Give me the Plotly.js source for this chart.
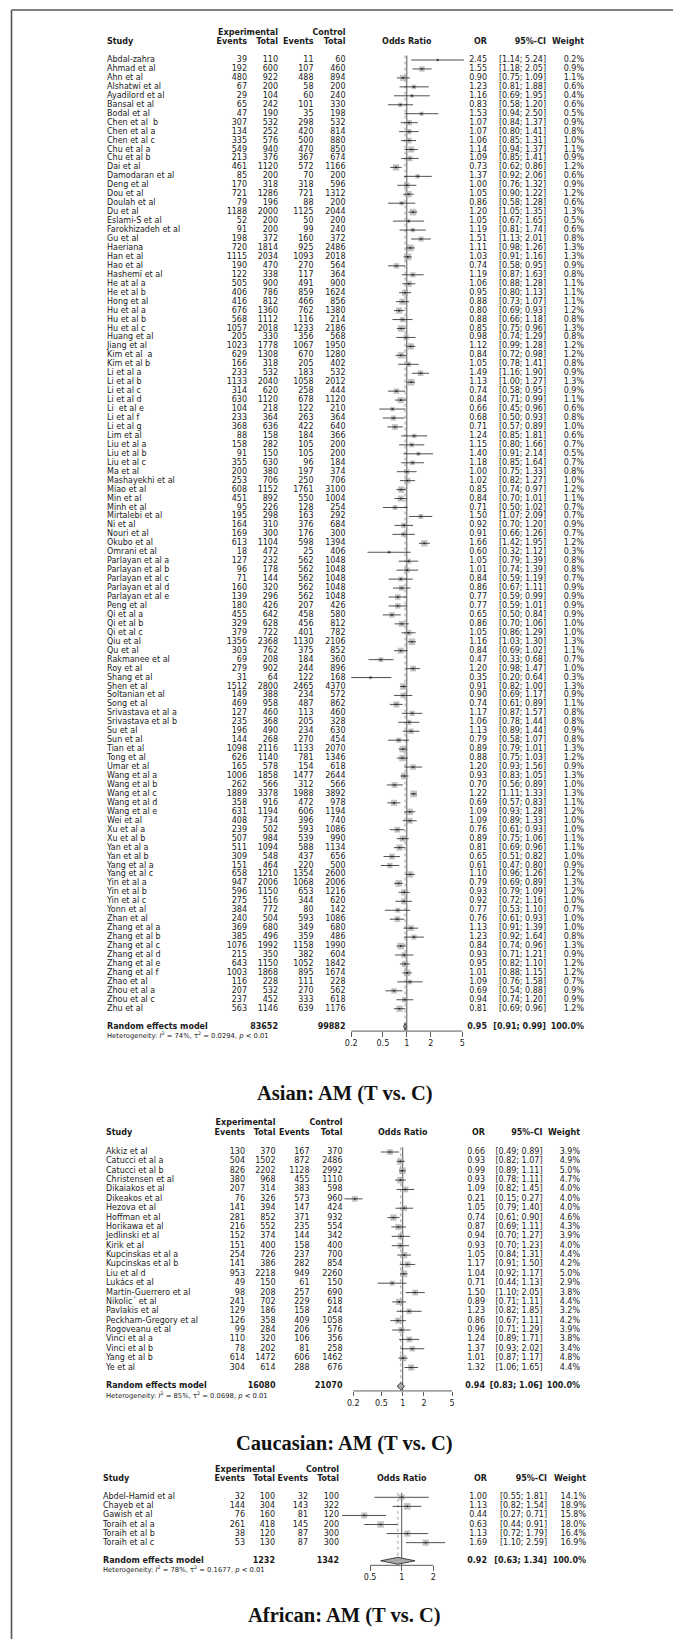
<!DOCTYPE html>
<html><head><meta charset="utf-8">
<script src="https://cdn.plot.ly/plotly-3.0.1.min.js"></script>
<style>html,body{margin:0;padding:0;background:#fff}#chart{width:673px;height:1639px}</style>
</head><body><div id="chart"></div>
<script>
// ---------------- DATA: Asian ----------------
const asiaStudy = ["Abdal-zahra","Ahmad et al","Ahn et al","Alshatwi et al","Ayadilord et al","Bansal et al","Bodal et al","Chen et al  b","Chen et al a","Chen et al c","Chu et al a","Chu et al b","Dai et al","Damodaran et al","Deng et al","Dou et al","Doulah et al","Du et al","Eslami-S et al","Farokhizadeh et al","Gu et al","Haeriana","Han et al","Hao et al","Hashemi et al","He at al a","He et al b","Hong et al","Hu et al a","Hu et al b","Hu et al c","Huang et al","Jiang et al","Kim et al  a","Kim et al b","Li et al a","Li et al b","Li et al c","Li et al d","Li  et al e","Li et al f","Li et al g","Lim et al","Liu et al a","Liu et al b","Liu et al c","Ma et al","Mashayekhi et al","Miao et al","Min et al","Minh et al","Mirtalebi et al","Ni et al","Nouri et al","Okubo et al","Omrani et al","Parlayan et al a","Parlayan et al b","Parlayan et al c","Parlayan et al d","Parlayan et al e","Peng et al","Qi et al a","Qi et al b","Qi et al c","Qiu et al","Qu et al","Rakmanee et al","Roy et al","Shang et al","Shen et al","Soltanian et al","Song et al","Srivastava et al a","Srivastava et al b","Su et al","Sun et al","Tian et al","Tong et al","Umar et al","Wang et al a","Wang et al b","Wang et al c","Wang et al d","Wang et al e","Wei et al","Xu et al a","Xu et al b","Yan et al a","Yan et al b","Yang et al a","Yang et al c","Yin et al a","Yin et al b","Yin et al c","Yonn et al","Zhan et al","Zhang et al a","Zhang et al b","Zhang et al c","Zhang et al d","Zhang et al e","Zhang et al f","Zhao et al","Zhou et al a","Zhou et al c","Zhu et al"];
const asiaEvE = [39,192,480,67,29,65,47,307,134,335,549,213,461,85,170,721,79,1188,52,91,198,720,1115,190,122,505,406,416,676,568,1057,205,1023,629,166,233,1133,314,630,104,233,368,88,158,91,355,200,253,608,451,95,195,164,169,613,18,127,96,71,160,139,180,455,329,379,1356,303,69,279,31,1512,149,469,127,235,196,144,1098,626,165,1006,262,1889,358,631,408,239,507,511,309,151,658,947,596,275,384,240,369,385,1076,215,643,1003,116,207,237,563];
const asiaNE = [110,600,922,200,104,242,190,532,252,576,940,376,1120,200,318,1286,196,2000,200,200,372,1814,2034,470,338,900,786,812,1360,1112,2018,330,1778,1308,318,532,2040,620,1120,218,364,636,158,282,150,630,380,706,1152,892,226,298,310,300,1104,472,232,178,144,320,296,426,642,628,722,2368,762,208,902,64,2800,388,958,460,368,490,268,2116,1140,578,1858,566,3378,916,1194,734,502,984,1094,548,464,1210,2006,1150,516,772,504,680,496,1992,350,1150,1868,228,532,452,1146];
const asiaEvC = [11,107,488,58,60,101,35,298,420,500,470,367,572,70,318,721,88,1125,50,99,160,925,1093,270,117,491,859,466,762,116,1233,356,1067,670,205,183,1058,258,678,122,263,422,184,105,105,96,197,250,1761,550,128,163,376,176,598,25,562,562,562,562,562,207,458,456,401,1130,375,184,244,122,2465,234,487,113,205,234,270,1133,781,154,1477,312,1988,472,606,396,593,539,588,437,220,1354,1068,653,344,80,593,349,359,1158,382,1052,895,111,270,333,639];
const asiaNC = [60,460,894,200,240,330,198,532,814,880,850,674,1166,200,596,1312,200,2044,200,240,372,2486,2018,564,364,900,1624,856,1380,214,2186,568,1950,1280,402,532,2012,444,1120,210,364,640,366,200,200,184,374,706,3100,1004,254,292,684,300,1394,406,1048,1048,1048,1048,1048,426,580,812,782,2106,852,360,896,168,4370,572,862,460,328,630,454,2070,1346,618,2644,566,3892,978,1194,740,1086,990,1134,656,500,2600,2006,1216,620,142,1086,680,486,1990,604,1842,1674,228,562,618,1176];
const asiaOR = [2.45,1.55,0.90,1.23,1.16,0.83,1.53,1.07,1.07,1.06,1.14,1.09,0.73,1.37,1.00,1.05,0.86,1.20,1.05,1.19,1.51,1.11,1.03,0.74,1.19,1.06,0.95,0.88,0.80,0.88,0.85,0.98,1.12,0.84,1.05,1.49,1.13,0.74,0.84,0.66,0.68,0.71,1.24,1.15,1.40,1.18,1.00,1.02,0.85,0.84,0.71,1.50,0.92,0.91,1.66,0.60,1.05,1.01,0.84,0.86,0.77,0.77,0.65,0.86,1.05,1.16,0.84,0.47,1.20,0.35,0.91,0.90,0.74,1.17,1.06,1.13,0.79,0.89,0.88,1.20,0.93,0.70,1.22,0.69,1.09,1.09,0.76,0.89,0.81,0.65,0.61,1.10,0.79,0.93,0.92,0.77,0.76,1.13,1.23,0.84,0.93,0.95,1.01,1.09,0.69,0.94,0.81];
const asiaLo = [1.14,1.18,0.75,0.81,0.69,0.58,0.94,0.84,0.80,0.85,0.94,0.85,0.62,0.92,0.76,0.90,0.58,1.05,0.67,0.81,1.13,0.98,0.91,0.58,0.87,0.88,0.80,0.73,0.69,0.66,0.75,0.74,0.99,0.72,0.78,1.16,1.00,0.58,0.71,0.45,0.50,0.57,0.85,0.80,0.91,0.85,0.75,0.82,0.74,0.70,0.50,1.07,0.70,0.66,1.42,0.32,0.79,0.74,0.59,0.67,0.59,0.59,0.50,0.70,0.86,1.03,0.69,0.33,0.98,0.20,0.82,0.69,0.61,0.87,0.78,0.89,0.58,0.79,0.75,0.93,0.83,0.56,1.11,0.57,0.93,0.89,0.61,0.75,0.69,0.51,0.47,0.96,0.69,0.79,0.72,0.53,0.61,0.91,0.92,0.74,0.71,0.82,0.88,0.76,0.54,0.74,0.69];
const asiaHi = [5.24,2.05,1.09,1.88,1.95,1.20,2.50,1.37,1.41,1.31,1.37,1.41,0.86,2.06,1.32,1.22,1.28,1.35,1.65,1.74,2.01,1.26,1.16,0.95,1.63,1.28,1.13,1.07,0.93,1.18,0.96,1.29,1.28,0.98,1.41,1.90,1.27,0.95,0.99,0.96,0.93,0.89,1.81,1.66,2.14,1.64,1.33,1.27,0.97,1.01,1.02,2.09,1.20,1.26,1.95,1.12,1.39,1.39,1.19,1.11,0.99,1.01,0.84,1.06,1.29,1.30,1.02,0.68,1.47,0.64,1.00,1.17,0.89,1.57,1.44,1.44,1.07,1.01,1.03,1.56,1.05,0.89,1.33,0.83,1.28,1.33,0.93,1.06,0.96,0.82,0.80,1.26,0.89,1.09,1.16,1.10,0.93,1.39,1.64,0.96,1.21,1.10,1.15,1.58,0.88,1.20,0.96];
const asiaW = [0.2,0.9,1.1,0.6,0.4,0.6,0.5,0.9,0.8,1.0,1.1,0.9,1.2,0.6,0.9,1.2,0.6,1.3,0.5,0.6,0.8,1.3,1.3,0.9,0.8,1.1,1.1,1.1,1.2,0.8,1.3,0.8,1.2,1.2,0.8,0.9,1.3,0.9,1.1,0.6,0.8,1.0,0.6,0.7,0.5,0.7,0.8,1.0,1.2,1.1,0.7,0.7,0.9,0.7,1.2,0.3,0.8,0.8,0.7,0.9,0.9,0.9,0.9,1.0,1.0,1.3,1.1,0.7,1.0,0.3,1.3,0.9,1.1,0.8,0.8,0.9,0.8,1.3,1.2,0.9,1.3,1.0,1.3,1.1,1.2,1.0,1.0,1.1,1.1,1.0,0.9,1.2,1.3,1.2,1.0,0.7,1.0,1.0,0.8,1.3,0.9,1.2,1.2,0.7,0.9,0.9,1.2];
const asiaTotals = [83652, 99882];
const asiaPooled = [0.95, 0.91, 0.99];
const asiaHet = ["74%", "0.0294", "0.01"];
const asiaTicks = [0.2, 0.5, 1, 2, 5];

// ---------------- DATA: Caucasian ----------------
const cauStudy = ["Akkiz et al","Catucci et al a","Catucci et al b","Christensen et al","Dikaiakos et al","Dikeakos et al","Hezova et al","Hoffman et al","Horikawa et al","Jedlinski et al","Kirik et al","Kupcinskas et al a","Kupcinskas et al b","Liu et al d","Lukács et al","Martín-Guerrero et al","Nikolic´ et al","Pavlakis et al","Peckham-Gregory et al","Rogoveanu et al","Vinci et al a","Vinci et al b","Yang et al b","Ye et al"];
const cauEvE = [130,504,826,380,207,76,141,281,216,152,151,254,141,953,49,98,241,129,126,99,110,78,614,304];
const cauNE = [370,1502,2202,968,314,326,394,852,552,374,400,726,386,2218,150,208,702,186,358,284,320,202,1472,614];
const cauEvC = [167,872,1128,455,383,573,147,371,235,144,158,237,282,949,61,257,229,158,409,206,106,81,606,288];
const cauNC = [370,2486,2992,1110,598,960,424,932,554,342,400,700,854,2260,150,690,618,244,1058,576,356,258,1462,676];
const cauOR = [0.66,0.93,0.99,0.93,1.09,0.21,1.05,0.74,0.87,0.94,0.93,1.05,1.17,1.04,0.71,1.50,0.89,1.23,0.86,0.96,1.24,1.37,1.01,1.32];
const cauLo = [0.49,0.82,0.89,0.78,0.82,0.15,0.79,0.61,0.69,0.70,0.70,0.84,0.91,0.92,0.44,1.10,0.71,0.82,0.67,0.71,0.89,0.93,0.87,1.06];
const cauHi = [0.89,1.07,1.11,1.11,1.45,0.27,1.40,0.90,1.11,1.27,1.23,1.31,1.50,1.17,1.13,2.05,1.11,1.85,1.11,1.29,1.71,2.02,1.17,1.65];
const cauW = [3.9,4.9,5.0,4.7,4.0,4.0,4.0,4.6,4.3,3.9,4.0,4.4,4.2,5.0,2.9,3.8,4.4,3.2,4.2,3.9,3.8,3.4,4.8,4.4];
const cauTotals = [16080, 21070];
const cauPooled = [0.94, 0.83, 1.06];
const cauHet = ["85%", "0.0698", "0.01"];
const cauTicks = [0.2, 0.5, 1, 2, 5];

// ---------------- DATA: African ----------------
const afrStudy = ["Abdel-Hamid et al","Chayeb et al","Gawish et al","Toraih et al a","Toraih et al b","Toraih et al c"];
const afrEvE = [32,144,76,261,38,53];
const afrNE = [100,304,160,418,120,130];
const afrEvC = [32,143,81,145,87,87];
const afrNC = [100,322,120,200,300,300];
const afrOR = [1.00,1.13,0.44,0.63,1.13,1.69];
const afrLo = [0.55,0.82,0.27,0.44,0.72,1.10];
const afrHi = [1.81,1.54,0.71,0.91,1.79,2.59];
const afrW = [14.1,18.9,15.8,18.0,16.4,16.9];
const afrTotals = [1232, 1342];
const afrPooled = [0.92, 0.63, 1.34];
const afrHet = ["78%", "0.1677", "0.01"];
const afrTicks = [0.5, 1, 2];

const titles = ["Asian: AM (T vs. C)", "Caucasian: AM (T vs. C)", "African: AM (T vs. C)"];

// ---------------- LAYOUT CONSTANTS (pixels) ----------------
const W = 673, H = 1639;
const FONT = "DejaVu Sans, Verdana, sans-serif";
const FS = 8;
const TXT = "#1a1a1a";
const panels = [
  {study: asiaStudy, evE: asiaEvE, nE: asiaNE, evC: asiaEvC, nC: asiaNC, or: asiaOR, lo: asiaLo, hi: asiaHi, w: asiaW,
   totals: asiaTotals, pooled: asiaPooled, het: asiaHet, ticks: asiaTicks, title: titles[0],
   y0: 60, pitch: 8.95, top: 18, bottom: 1112, nameX: 107, eveR: 247, neR: 278, evcR: 313.5, ncR: 345.5,
   orC: 406.8, k: 79.5, orR: 487, ciR: 546, wR: 584, titleY: 1093},
  {study: cauStudy, evE: cauEvE, nE: cauNE, evC: cauEvC, nC: cauNC, or: cauOR, lo: cauLo, hi: cauHi, w: cauW,
   totals: cauTotals, pooled: cauPooled, het: cauHet, ticks: cauTicks, title: titles[1],
   y0: 1152, pitch: 9.37, top: 1112, bottom: 1462, nameX: 106, eveR: 245, neR: 275.5, evcR: 309.5, ncR: 342.5,
   orC: 402.7, k: 70.7, orR: 485, ciR: 542.5, wR: 580, titleY: 1443},
  {study: afrStudy, evE: afrEvE, nE: afrNE, evC: afrEvC, nC: afrNC, or: afrOR, lo: afrLo, hi: afrHi, w: afrW,
   totals: afrTotals, pooled: afrPooled, het: afrHet, ticks: afrTicks, title: titles[2],
   y0: 1497.3, pitch: 9.07, top: 1462, bottom: 1639, nameX: 103, eveR: 245, neR: 275, evcR: 308, ncR: 339,
   orC: 401.7, k: 105, orR: 487, ciR: 547, wR: 586, titleY: 1615}
];
const SQMAX = 6.6;

const traces = [];
const layout = {
  width: W, height: H, margin: {l: 0, r: 0, t: 0, b: 0},
  paper_bgcolor: "#ffffff", plot_bgcolor: "rgba(0,0,0,0)", showlegend: false,
  shapes: [
    {type: "line", xref: "paper", yref: "paper", x0: 11.5 / W, x1: 1, y0: 1 - 10 / H, y1: 1 - 10 / H, line: {color: "#555", width: 1.6}},
    {type: "line", xref: "paper", yref: "paper", x0: 11.5 / W, x1: 11.5 / W, y0: 1 - 10 / H, y1: 0, line: {color: "#555", width: 1.6}}
  ],
  annotations: []
};

function textTrace(xa, ya, xs, ys, texts, pos, size, color) {
  return {type: "scatter", mode: "text", x: xs, y: ys, text: texts, textposition: pos,
    textfont: {family: FONT, size: size || FS, color: color || TXT},
    xaxis: xa, yaxis: ya, hoverinfo: "skip", cliponaxis: false, showlegend: false};
}
const fill = (n, v) => Array.from({length: n}, () => v);
const f2 = v => v.toFixed(2);

panels.forEach((p, pi) => {
  const tx = "x" + (2 * pi + 1), fx = "x" + (2 * pi + 2), ya = "y" + (pi + 1);
  const txKey = pi === 0 ? "xaxis" : "xaxis" + (2 * pi + 1);
  const fxKey = "xaxis" + (2 * pi + 2);
  const yKey = pi === 0 ? "yaxis" : "yaxis" + (pi + 1);
  const n = p.study.length;
  const rows = p.study.map((_, i) => i);
  const rnd = n + 1;            // random effects row index
  const axisRow = rnd + 0.5;    // axis line row
  const hetRow = rnd + 1.08;

  layout[yKey] = {domain: [1 - p.bottom / H, 1 - p.top / H],
    range: [(p.bottom - p.y0) / p.pitch, (p.top - p.y0) / p.pitch], visible: false, fixedrange: true};
  layout[txKey] = {domain: [0, 1], range: [0, W], visible: false, anchor: ya, fixedrange: true};
  const axisPix = p.y0 + axisRow * p.pitch;
  layout[fxKey] = {type: "log", domain: [0, 1], range: [(0 - p.orC) / p.k, (W - p.orC) / p.k],
    anchor: "free", position: 1 - axisPix / H, showgrid: false, zeroline: false, showline: false,
    ticks: "outside", ticklen: 4.5, tickwidth: 0.8, tickcolor: "#333",
    tickvals: p.ticks, ticktext: p.ticks.map(String),
    tickfont: {family: FONT, size: FS, color: TXT}, fixedrange: true};

  // headers
  const B = s => "<b>" + s + "</b>";
  traces.push(textTrace(tx, ya, [p.neR, p.ncR], [-3.05, -3.05], [B("Experimental"), B("Control")], "middle left"));
  traces.push(textTrace(tx, ya, [p.nameX], [-2.05], [B("Study")], "middle right"));
  traces.push(textTrace(tx, ya, [p.eveR, p.neR, p.evcR, p.ncR, p.orR, p.ciR, p.wR], fill(7, -2.05),
    [B("Events"), B("Total"), B("Events"), B("Total"), B("OR"), B("95%-CI"), B("Weight")], "middle left"));
  traces.push(textTrace(fx, ya, [1], [-2.05], [B("Odds Ratio")], "middle center"));

  // study rows
  traces.push(textTrace(tx, ya, fill(n, p.nameX), rows, p.study, "middle right"));
  traces.push(textTrace(tx, ya, fill(n, p.eveR), rows, p.evE.map(String), "middle left"));
  traces.push(textTrace(tx, ya, fill(n, p.neR), rows, p.nE.map(String), "middle left"));
  traces.push(textTrace(tx, ya, fill(n, p.evcR), rows, p.evC.map(String), "middle left"));
  traces.push(textTrace(tx, ya, fill(n, p.ncR), rows, p.nC.map(String), "middle left"));
  traces.push(textTrace(tx, ya, fill(n, p.orR), rows, p.or.map(f2), "middle left"));
  traces.push(textTrace(tx, ya, fill(n, p.ciR), rows, p.lo.map((l, i) => "[" + f2(l) + "; " + f2(p.hi[i]) + "]"), "middle left"));
  traces.push(textTrace(tx, ya, fill(n, p.wR), rows, p.w.map(v => v.toFixed(1) + "%"), "middle left"));

  // random effects row
  traces.push(textTrace(tx, ya, [p.nameX], [rnd], [B("Random effects model")], "middle right"));
  traces.push(textTrace(tx, ya, [p.neR, p.ncR, p.orR, p.ciR, p.wR], fill(5, rnd),
    [B(p.totals[0]), B(p.totals[1]), B(f2(p.pooled[0])), B("[" + f2(p.pooled[1]) + "; " + f2(p.pooled[2]) + "]"), B("100.0%")], "middle left"));
  traces.push(textTrace(tx, ya, [p.nameX], [hetRow],
    ["Heterogeneity: <i>I</i><sup>2</sup> = " + p.het[0] + ", τ<sup>2</sup> = " + p.het[1] + ", <i>p</i> < " + p.het[2]], "middle right", 6.8));

  // reference lines
  traces.push({type: "scatter", mode: "lines", x: [1, 1], y: [-0.5, axisRow], xaxis: fx, yaxis: ya,
    line: {color: "#555", width: 1}, hoverinfo: "skip"});
  traces.push({type: "scatter", mode: "lines", x: [p.pooled[0], p.pooled[0]], y: [-0.5, axisRow], xaxis: fx, yaxis: ya,
    line: {color: "#888", width: 0.8, dash: "dot"}, hoverinfo: "skip"});
  // axis line
  traces.push({type: "scatter", mode: "lines", x: [p.ticks[0], p.ticks[p.ticks.length - 1]], y: [axisRow, axisRow],
    xaxis: fx, yaxis: ya, line: {color: "#333", width: 0.8}, hoverinfo: "skip"});

  // squares
  const wmax = Math.max(...p.w);
  traces.push({type: "scatter", mode: "markers", x: p.or, y: rows, xaxis: fx, yaxis: ya,
    marker: {symbol: "square", size: p.w.map(v => SQMAX * Math.sqrt(v / wmax)), color: "#a8a8a8", line: {width: 0}},
    hoverinfo: "skip", cliponaxis: false});
  // CI lines
  const cx = [], cy = [];
  p.lo.forEach((l, i) => { cx.push(l, p.hi[i], null); cy.push(i, i, null); });
  traces.push({type: "scatter", mode: "lines", x: cx, y: cy, xaxis: fx, yaxis: ya,
    line: {color: "#222", width: 0.8}, hoverinfo: "skip", connectgaps: false});
  // centre dots
  traces.push({type: "scatter", mode: "markers", x: p.or, y: rows, xaxis: fx, yaxis: ya,
    marker: {symbol: "square", size: 1.6, color: "#222"}, hoverinfo: "skip", cliponaxis: false});
  // diamond
  const dh = 0.38;
  traces.push({type: "scatter", mode: "lines", fill: "toself", fillcolor: "#a8a8a8",
    x: [p.pooled[1], p.pooled[0], p.pooled[2], p.pooled[0], p.pooled[1]],
    y: [rnd, rnd - dh, rnd, rnd + dh, rnd], xaxis: fx, yaxis: ya,
    line: {color: "#222", width: 0.8}, hoverinfo: "skip"});

  // title
  layout.annotations.push({xref: "paper", yref: "paper", x: 345 / W, y: 1 - p.titleY / H,
    xanchor: "center", yanchor: "middle", showarrow: false, text: "<b>" + p.title + "</b>",
    font: {family: "Liberation Serif, Times New Roman, serif", size: 20.5, color: "#111"}});
});

Plotly.newPlot("chart", traces, layout, {staticPlot: true, displayModeBar: false});
</script>
</body></html>
